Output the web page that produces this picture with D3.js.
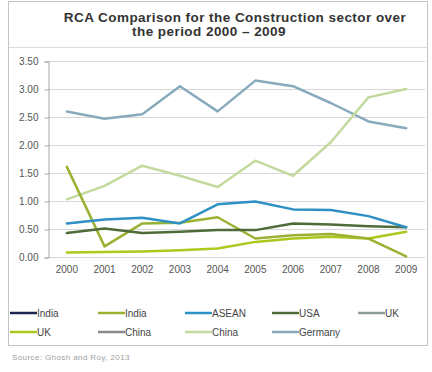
<!DOCTYPE html>
<html>
<head>
<meta charset="utf-8">
<script src="https://cdn.jsdelivr.net/npm/d3@7"></script>
<style>
  html, body { margin: 0; padding: 0; background: #fff; }
  svg { display: block; font-family: "Liberation Sans", Arial, sans-serif; }
</style>
</head>
<body>
<svg id="chart" width="432" height="372"></svg>
<script>
// Years on the category axis
const years = ["2000","2001","2002","2003","2004","2005","2006","2007","2008","2009"];

// Value axis ticks
const yTicks = [0, 0.5, 1.0, 1.5, 2.0, 2.5, 3.0, 3.5];

// RCA values per series (null = no data plotted)
const indiaA   = null;
const indiaB   = [1.61, 0.19, 0.60, 0.61, 0.71, 0.33, 0.39, 0.41, 0.33, 0.01];
const asean    = [0.60, 0.67, 0.70, 0.60, 0.94, 0.99, 0.85, 0.84, 0.73, 0.53];
const usa      = [0.43, 0.51, 0.43, 0.45, 0.48, 0.48, 0.60, 0.58, 0.55, 0.53];
const ukA      = null;
const ukB      = [0.08, 0.09, 0.10, 0.12, 0.15, 0.27, 0.33, 0.36, 0.33, 0.45];
const chinaA   = null;
const chinaB   = [1.03, 1.27, 1.63, 1.45, 1.25, 1.72, 1.45, 2.05, 2.85, 3.00];
const germany  = [2.60, 2.47, 2.55, 3.05, 2.60, 3.15, 3.05, 2.75, 2.42, 2.30];

// Legend names in display order
const seriesNames = ["India","India","ASEAN","USA","UK","UK","China","China","Germany"];
const seriesValues = [indiaA, indiaB, asean, usa, ukA, ukB, chinaA, chinaB, germany];
const seriesColors = ["#1c2450","#9ab232","#2f90c4","#4f6c38","#8e9c9c","#aac91c","#8a8a8a","#c2da9e","#88aabd"];

const svg = d3.select("#chart");

// outer frame and title divider
svg.append("rect").attr("x", 8.5).attr("y", 1.5).attr("width", 419).attr("height", 344)
  .attr("fill", "#fff").attr("stroke", "#c4c4c4");
svg.append("line").attr("x1", 9).attr("x2", 427).attr("y1", 47.5).attr("y2", 47.5)
  .attr("stroke", "#dcdcdc");

// title
const title = svg.append("text").attr("font-weight", "bold").attr("font-size", 13.5)
  .attr("letter-spacing", 0.45).attr("fill", "#333").attr("text-anchor", "middle");
title.append("tspan").attr("x", 235).attr("y", 22).text("RCA Comparison for the Construction sector over");
title.append("tspan").attr("x", 209).attr("y", 36).text("the period 2000 \u2013 2009");

const x = d3.scaleBand().domain(years).range([48, 425]);
const y = d3.scaleLinear().domain([0, 3.5]).range([257, 61]);

// gridlines
svg.append("g").selectAll("line").data(yTicks).join("line")
  .attr("x1", 48).attr("x2", 425)
  .attr("y1", d => Math.round(y(d)) + 0.5).attr("y2", d => Math.round(y(d)) + 0.5)
  .attr("stroke", "#d6d6d6");

// y axis
const yAxis = svg.append("g").attr("transform", "translate(48.5,0.5)")
  .call(d3.axisLeft(y).tickValues(yTicks).tickFormat(d3.format(".2f")).tickSize(4).tickPadding(6));
yAxis.select(".domain").attr("stroke", "#a8a8a8");
yAxis.selectAll(".tick line").attr("stroke", "#a8a8a8");
yAxis.selectAll("text").attr("font-size", 10).attr("fill", "#555")
  .attr("font-family", "'Liberation Sans', Arial, sans-serif");

// x axis labels
const xAxis = svg.append("g").attr("transform", "translate(0,257.5)")
  .call(d3.axisBottom(x).tickSize(0).tickPadding(8));
xAxis.select(".domain").remove();
xAxis.selectAll("text").attr("font-size", 10).attr("fill", "#555")
  .attr("font-family", "'Liberation Sans', Arial, sans-serif");

// series lines, drawn back to front
const line = d3.line()
  .x((d, i) => x(years[i]) + x.bandwidth() / 2)
  .y(d => y(d));

const order = [8, 7, 5, 1, 3, 2];
svg.append("g").selectAll("path")
  .data(order.map(i => ({ v: seriesValues[i], c: seriesColors[i] })))
  .join("path")
  .attr("d", d => line(d.v))
  .attr("fill", "none")
  .attr("stroke", d => d.c)
  .attr("stroke-width", 2.5)
  .attr("stroke-linejoin", "round")
  .attr("stroke-linecap", "round");

// legend
const colX = [10, 98, 185, 272, 358];
const rowY = [313, 332];
const legend = svg.append("g").selectAll("g").data(seriesNames).join("g")
  .attr("transform", (d, i) => `translate(${colX[i % 5]},${rowY[Math.floor(i / 5)]})`);
legend.append("line").attr("x1", 0).attr("x2", 27).attr("y1", 0).attr("y2", 0)
  .attr("stroke", (d, i) => seriesColors[i]).attr("stroke-width", 2.5);
legend.append("text").attr("x", 27).attr("y", 4).attr("font-size", 10).attr("fill", "#444")
  .text(d => d);

// source note
svg.append("text").attr("x", 12).attr("y", 360).attr("font-size", 8).attr("fill", "#a0a0a0")
  .attr("letter-spacing", 0.4)
  .text("Source: Ghosh and Roy, 2013");
</script>
</body>
</html>
